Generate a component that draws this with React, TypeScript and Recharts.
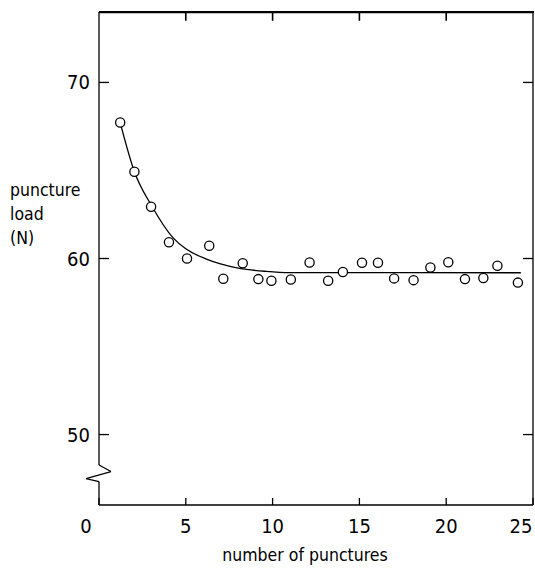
import React from "react";
import { ComposedChart, Line, Scatter, XAxis, YAxis, ReferenceLine, Label } from "recharts";

// measured points
const punctureNumber = [1.22, 2.04, 3.0, 4.03, 5.07, 6.35, 7.16, 8.28, 9.18, 9.93, 11.05, 12.13, 13.2, 14.05, 15.15, 16.07, 17.0, 18.12, 19.09, 20.12, 21.08, 22.14, 22.95, 24.13];
const punctureLoad = [67.72, 64.93, 62.94, 60.92, 60.0, 60.72, 58.85, 59.73, 58.83, 58.74, 58.81, 59.77, 58.74, 59.23, 59.76, 59.76, 58.87, 58.77, 59.49, 59.79, 58.83, 58.89, 59.59, 58.63];

// fitted curve
const fitNumber = [1.22, 2.04, 3.04, 4.27, 5.0, 6.19, 7.0, 8.09, 9.62, 11, 24.3];
const fitLoad = [67.72, 64.93, 62.98, 61.17, 60.55, 59.97, 59.69, 59.44, 59.27, 59.2, 59.19];

const xTicks = [0, 5, 10, 15, 20, 25];
const topTicks = [5, 10, 15, 20];
const yTicks = [50, 60, 70];
const yMin = 46;
const yMax = 74;

// axis break on the load axis
const breakX = [0, 0.69, -0.75, 0];
const breakY = [48.27, 47.9, 47.5, 47.33];

const font = "'DejaVu Sans Condensed', 'DejaVu Sans', sans-serif";

const points = punctureNumber.map((x, i) => ({ x, y: punctureLoad[i] }));
const fit = fitNumber.map((x, i) => ({ x, y: fitLoad[i] }));

const XTick = (props: any) => {
  const { x, y, payload } = props;
  const shift = payload.value === 0 ? -13 : payload.value === 25 ? -12 : 0;
  return (
    <text x={x + shift} y={y + 16} textAnchor="middle" fontSize={20} fontFamily={font} fill="#000">
      {payload.value}
    </text>
  );
};

const YTick = (props: any) => {
  const { x, y, payload } = props;
  return (
    <text x={x} y={y + 7} textAnchor="end" fontSize={20} fontFamily={font} fill="#000">
      {payload.value}
    </text>
  );
};

const Ring = (props: any) => (
  <circle cx={props.cx} cy={props.cy} r={4.6} fill="#fff" stroke="#000" strokeWidth={1.3} />
);

const YTitle = (props: any) => {
  const { viewBox } = props;
  const x = viewBox.x + 10;
  return (
    <text x={x} y={196} fontSize={17.5} fontFamily={font} fill="#000">
      <tspan x={x} y={196}>puncture</tspan>
      <tspan x={x} y={220}>load</tspan>
      <tspan x={x} y={244}>(N)</tspan>
    </text>
  );
};

const XTitle = (props: any) => {
  const { viewBox } = props;
  return (
    <text x={viewBox.x + viewBox.width / 2 - 11} y={561} textAnchor="middle" fontSize={17.5} fontFamily={font} fill="#000">
      number of punctures
    </text>
  );
};

const axisStroke = { stroke: "#000", strokeWidth: 1.3 };
const frame = { stroke: "#000", strokeWidth: 1.6 };

export default function App() {
  const segs = breakX.slice(1).map((bx, i) => [
    { x: breakX[i], y: breakY[i] },
    { x: bx, y: breakY[i + 1] },
  ]);
  return (
    <div style={{ position: "absolute", left: 0, top: 0 }}>
      <ComposedChart width={535} height={570} margin={{ top: 12, right: 1, left: 0, bottom: 0 }}>
        <XAxis
          dataKey="x"
          type="number"
          domain={[0, 25]}
          ticks={xTicks}
          interval={0}
          height={65}
          tickSize={-7}
          tickMargin={19}
          tick={<XTick />}
          axisLine={axisStroke}
          tickLine={axisStroke}
        >
          <Label content={<XTitle />} />
        </XAxis>
        <YAxis
          type="number"
          domain={[yMin, yMax]}
          ticks={yTicks}
          interval={0}
          width={99}
          tickSize={-10}
          tickMargin={19}
          axisLine={false}
          tickLine={axisStroke}
          tick={<YTick />}
        >
          <Label content={<YTitle />} />
        </YAxis>
        <YAxis
          yAxisId="right"
          orientation="right"
          type="number"
          domain={[yMin, yMax]}
          ticks={yTicks}
          interval={0}
          width={1}
          tickSize={-10}
          tickFormatter={() => ""}
          axisLine={axisStroke}
          tickLine={axisStroke}
        />
        <ReferenceLine segment={[{ x: 0, y: yMax - 0.02 }, { x: 25, y: yMax - 0.02 }]} {...frame} ifOverflow="visible" />
        {topTicks.map((t) => (
          <ReferenceLine key={"t" + t} segment={[{ x: t, y: yMax }, { x: t, y: yMax - 0.5 }]} {...frame} ifOverflow="visible" />
        ))}
        <ReferenceLine segment={[{ x: 0, y: yMax }, { x: 0, y: breakY[0] }]} stroke="#000" strokeWidth={1.3} ifOverflow="visible" />
        {segs.map((s, i) => (
          <ReferenceLine key={i} segment={s} stroke="#000" strokeWidth={1.3} ifOverflow="visible" />
        ))}
        <ReferenceLine segment={[{ x: 0, y: breakY[3] }, { x: 0, y: yMin }]} stroke="#000" strokeWidth={1.3} ifOverflow="visible" />
        {/* invisible copy so the right frame axis gets drawn */}
        <Line data={fit} dataKey="y" yAxisId="right" stroke="none" dot={false} activeDot={false} legendType="none" isAnimationActive={false} />
        <Line data={fit} dataKey="y" type="monotone" stroke="#000" strokeWidth={1.3} dot={false} isAnimationActive={false} />
        <Scatter data={points} dataKey="y" shape={<Ring />} isAnimationActive={false} />
      </ComposedChart>
      {/* top edge of the frame */}
      <div style={{ position: "absolute", left: 99, top: 11, width: 435, height: 2, background: "#000" }} />
    </div>
  );
}
